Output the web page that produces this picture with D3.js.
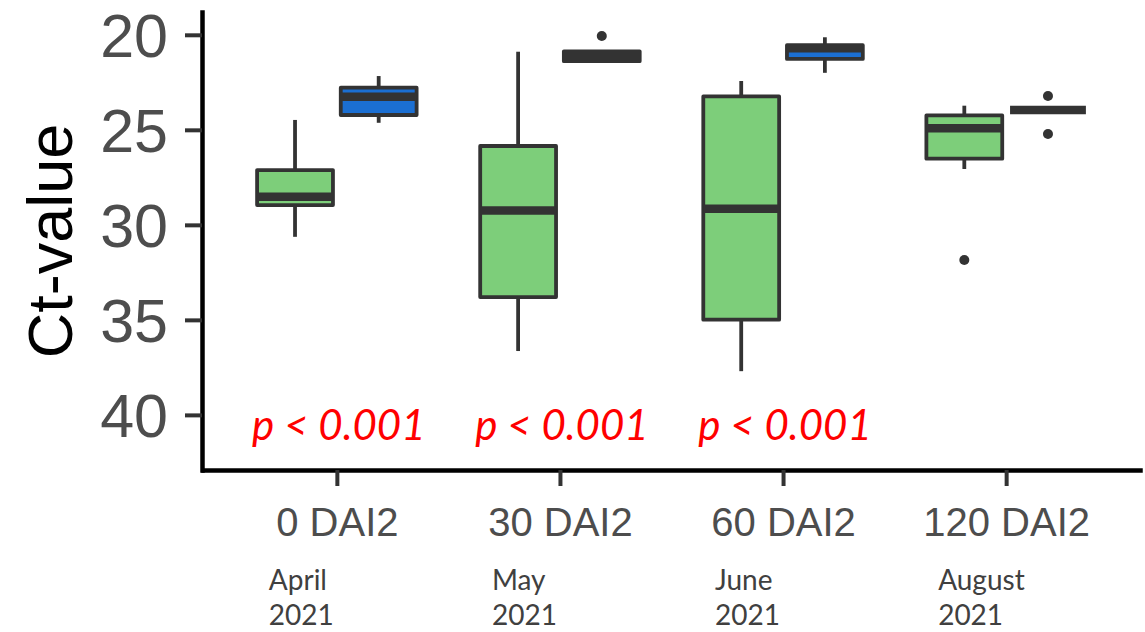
<!DOCTYPE html>
<html>
<head>
<meta charset="utf-8">
<script src="https://cdn.jsdelivr.net/npm/d3@7"></script>
<style>
  body { margin: 0; background: #fff; }
  svg { display: block; }
</style>
</head>
<body>
<svg width="1145" height="632"></svg>
<script>
// Categories along the x axis, with the sampling month written below each
var categories = ["0 DAI2", "30 DAI2", "60 DAI2", "120 DAI2"],
  monthLabels = [["April", "2021"], ["May", "2021"], ["June", "2021"], ["August", "2021"]],
  pLabels = ["p < 0.001", "p < 0.001", "p < 0.001", ""],
  yTicks = [20, 25, 30, 35, 40];

// Box statistics per category: [lower whisker, Q1, median, Q3, upper whisker]
var greenStats = [
  [24.48, 27.12, 28.52, 28.96, 30.63],
  [20.89, 25.85, 29.24, 33.80, 36.64],
  [22.43, 23.24, 29.15, 34.99, 37.70],
  [23.73, 24.24, 24.92, 26.52, 27.06]
];
var blueStats = [
  [22.17, 22.78, 23.26, 24.22, 24.63],
  [20.87, 20.87, 21.13, 21.39, 21.39],
  [20.13, 20.55, 20.71, 21.27, 22.00],
  [23.96, 23.96, 23.96, 23.96, 23.96]
];
var greenOutliers = [[], [], [], [31.85]],
  blueOutliers = [[], [20.06], [], [23.22, 25.22]];

var series = [
  {name: "green", fill: "#7dce7a", stats: greenStats, outliers: greenOutliers, shift: -1},
  {name: "blue", fill: "#1b6fd2", stats: blueStats, outliers: blueOutliers, shift: 1}
];

var svg = d3.select("svg");

var x = d3.scalePoint()
  .domain(categories)
  .range([203, 1140])
  .padding(0.6);

// Reversed axis: low Ct at the top
var y = d3.scaleLinear()
  .domain([18.8, 42.9])
  .range([12, 470]);

var step = x.step(),
  boxW = step * 0.34,
  dodge = step * 0.1875,
  ink = "#333333";

// Y axis
var yAxis = svg.append("g")
  .attr("transform", "translate(202,0)")
  .call(d3.axisLeft(y).tickValues(yTicks).tickSize(17).tickSizeOuter(0).tickPadding(17));
yAxis.select(".domain").attr("stroke", "#000").attr("stroke-width", 4.5).attr("stroke-linecap", "square");
yAxis.selectAll(".tick line").attr("stroke", ink).attr("stroke-width", 4);
yAxis.selectAll(".tick text")
  .attr("fill", "#4d4d4d")
  .attr("dy", "0.36em")
  .style("font-family", "'Liberation Sans', Arial, sans-serif")
  .style("font-size", "61px");

// X axis
var xAxis = svg.append("g")
  .attr("transform", "translate(0,470)")
  .call(d3.axisBottom(x).tickSize(16).tickSizeOuter(0).tickPadding(22));
xAxis.select(".domain").attr("stroke", "#000").attr("stroke-width", 4.5).attr("stroke-linecap", "square");
xAxis.selectAll(".tick line").attr("stroke", ink).attr("stroke-width", 4);
xAxis.selectAll(".tick text")
  .attr("fill", "#4d4d4d")
  .style("font-family", "'Liberation Sans', Arial, sans-serif")
  .style("font-size", "40px");

// Y axis title
svg.append("text")
  .attr("transform", "translate(72,241) rotate(-90)")
  .attr("text-anchor", "middle")
  .attr("fill", "#000")
  .style("font-family", "'Liberation Sans', Arial, sans-serif")
  .style("font-size", "63px")
  .text("Ct-value");

// Boxes
series.forEach(function(s) {
  var g = svg.append("g").attr("class", "series-" + s.name);

  s.stats.forEach(function(st, i) {
    var cx = x(categories[i]) + s.shift * dodge,
      x0 = cx - boxW / 2;

    // whiskers
    g.append("line")
      .attr("x1", cx).attr("x2", cx)
      .attr("y1", y(st[0])).attr("y2", y(st[1]))
      .attr("stroke", ink).attr("stroke-width", 3.8);
    g.append("line")
      .attr("x1", cx).attr("x2", cx)
      .attr("y1", y(st[3])).attr("y2", y(st[4]))
      .attr("stroke", ink).attr("stroke-width", 3.8);

    g.append("rect")
      .attr("x", x0)
      .attr("y", y(st[1]))
      .attr("width", boxW)
      .attr("height", y(st[3]) - y(st[1]))
      .attr("fill", s.fill)
      .attr("stroke", ink)
      .attr("stroke-width", 3.8)
      .attr("stroke-linejoin", "round");

    // median
    g.append("line")
      .attr("x1", x0).attr("x2", x0 + boxW)
      .attr("y1", y(st[2])).attr("y2", y(st[2]))
      .attr("stroke", ink).attr("stroke-width", 8.5);

    s.outliers[i].forEach(function(v) {
      g.append("circle")
        .attr("cx", cx)
        .attr("cy", y(v))
        .attr("r", 5)
        .attr("fill", ink);
    });
  });
});

// p-value annotations
svg.append("g")
  .selectAll("text")
  .data(pLabels)
  .enter().append("text")
    .attr("x", function(d, i) { return x(categories[i]) + 2; })
    .attr("y", 440)
    .attr("text-anchor", "middle")
    .attr("fill", "#ff0000")
    .style("font-family", "Lato, sans-serif")
    .style("font-style", "italic")
    .style("font-size", "42px")
    .text(function(d) { return d; });

// Month / year labels under the axis
var months = svg.append("g")
  .selectAll("text")
  .data(monthLabels)
  .enter().append("text")
    .attr("x", function(d, i) { return x(categories[i]) - 68; })
    .attr("y", 590)
    .attr("fill", "#404040")
    .style("font-family", "Lato, sans-serif")
    .style("font-size", "28px");

months.append("tspan").text(function(d) { return d[0]; });
months.append("tspan")
  .attr("x", function(d, i) { return x(categories[i]) - 68; })
  .attr("dy", 35)
  .text(function(d) { return d[1]; });
</script>
</body>
</html>
